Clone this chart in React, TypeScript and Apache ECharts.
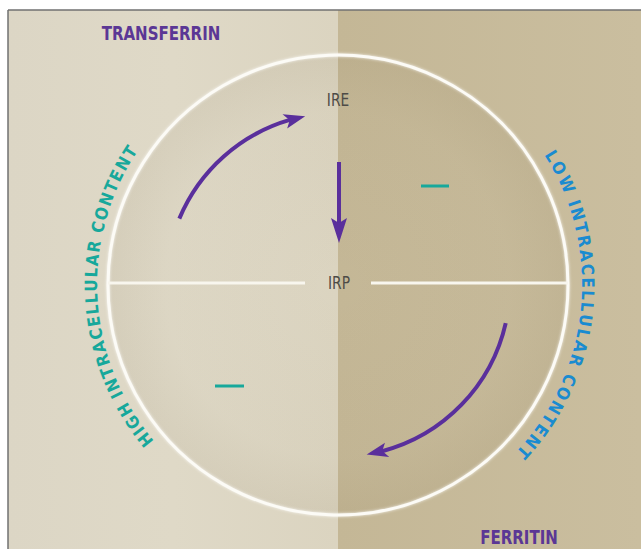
import React, { useEffect, useRef } from 'react';
import * as echarts from 'echarts';

// ---- content ----
const proteinLabels = ['TRANSFERRIN', 'FERRITIN'];
const nodeLabels = ['IRE', 'IRP'];
const sideLabels = ['HIGH INTRACELLULAR CONTENT', 'LOW INTRACELLULAR CONTENT'];
// curved arrows (screen degrees, clockwise from +x)
const arcArrowStart = [202.7, 12.8];
const arcArrowEnd = [259, 80.4];

const FONT = '"Liberation Sans Narrow", "DejaVu Sans Condensed", "Roboto Condensed", "Noto Sans", sans-serif';
const CX = 338;
const CY = 285;
const R = 230;
const PURPLE = '#5a2f9c';
const TEAL = '#17a89b';
const BLUE = '#1a8bd0';
const D = Math.PI / 180;

function curvedText(text: string, startDeg: number, endDeg: number, r: number, size: number, sx: number, color: string, z: number) {
  const canvas = document.createElement('canvas');
  const ctx = canvas.getContext('2d')!;
  ctx.font = `bold ${size}px ${FONT}`;
  const chars = Array.from(text);
  const widths = chars.map((c) => ctx.measureText(c).width * sx);
  const total = widths.reduce((a, b) => a + b, 0);
  const span = (endDeg - startDeg) * D * r;
  const k = span / total;
  let acc = 0;
  const els: any[] = [];
  chars.forEach((c, i) => {
    const mid = (acc + widths[i] / 2) * k;
    acc += widths[i];
    if (c === ' ') return;
    const th = startDeg * D + mid / r;
    els.push({
      type: 'text',
      x: CX + r * Math.cos(th),
      y: CY + r * Math.sin(th),
      rotation: -(th + Math.PI / 2),
      scaleX: sx,
      z,
      style: {
        text: c,
        fill: color,
        fontSize: size,
        fontWeight: 'bold',
        fontFamily: FONT,
        align: 'center',
        verticalAlign: 'middle',
      },
    });
  });
  return els;
}

function arcArrow(r: number, startDeg: number, tipDeg: number, z: number) {
  const len = 21;
  const half = 7.5;
  const notch = 5;
  const t = tipDeg * D;
  const b = t - len / r;
  const tip = [CX + r * Math.cos(t), CY + r * Math.sin(t)];
  const bc = [CX + r * Math.cos(b), CY + r * Math.sin(b)];
  const dx = tip[0] - bc[0];
  const dy = tip[1] - bc[1];
  const dl = Math.hypot(dx, dy);
  const np = [bc[0] + (notch * dx) / dl, bc[1] + (notch * dy) / dl];
  const n = [Math.cos(b), Math.sin(b)];
  return [
    {
      type: 'arc',
      z,
      shape: { cx: CX, cy: CY, r, startAngle: startDeg * D, endAngle: b + 6 / r, clockwise: true },
      style: { stroke: PURPLE, lineWidth: 4, fill: null, lineCap: 'butt' },
    },
    {
      type: 'polygon',
      z,
      shape: {
        points: [tip, [bc[0] + half * n[0], bc[1] + half * n[1]], np, [bc[0] - half * n[0], bc[1] - half * n[1]]],
      },
      style: { fill: PURPLE },
    },
  ];
}

export default function App() {
  const ref = useRef<HTMLDivElement>(null);
  useEffect(() => {
    document.body.style.margin = '0';
    const chart = echarts.init(ref.current!, null, { renderer: 'svg' });
    const labelStyle = (text: string, color: string, size: number, bold: boolean) => ({
      text, fill: color, fontSize: size, fontWeight: bold ? 'bold' : 'normal', fontFamily: FONT,
      align: 'center', verticalAlign: 'middle',
    });
    const elements: any[] = [
      // page background
      { type: 'rect', z: 0, shape: { x: 0, y: 0, width: 641, height: 549 }, style: { fill: '#ffffff' } },
      {
        type: 'rect', z: 1, shape: { x: 8, y: 10, width: CX - 8, height: 549 },
        style: {
          fill: new echarts.graphic.LinearGradient(0, 0, 1, 0, [
            { offset: 0, color: '#dcd6c5' }, { offset: 0.5, color: '#dfd9c7' }, { offset: 1, color: '#dbd4c0' },
          ]),
        },
      },
      {
        type: 'rect', z: 1, shape: { x: CX, y: 10, width: 641 - CX, height: 549 },
        style: {
          fill: new echarts.graphic.LinearGradient(0, 0, 1, 0, [
            { offset: 0, color: '#c4b796' }, { offset: 1, color: '#cabe9f' },
          ]),
        },
      },
      // frame
      { type: 'line', z: 2, shape: { x1: 8, y1: 10, x2: 641, y2: 10 }, style: { stroke: '#707070', lineWidth: 1.5 } },
      { type: 'line', z: 2, shape: { x1: 8, y1: 10, x2: 8, y2: 549 }, style: { stroke: '#707070', lineWidth: 1.5 } },
      // circle inner shading
      {
        type: 'circle', z: 3, shape: { cx: CX, cy: CY, r: R },
        style: {
          fill: new echarts.graphic.RadialGradient(0.5, 0.5, 0.5, [
            { offset: 0, color: 'rgba(90,70,30,0.0)' },
            { offset: 0.75, color: 'rgba(90,70,30,0.02)' },
            { offset: 1, color: 'rgba(90,70,30,0.07)' },
          ]),
        },
      },
      // circle outline
      {
        type: 'circle', z: 4, shape: { cx: CX, cy: CY, r: R },
        style: { fill: null, stroke: '#fcfbf6', lineWidth: 3, shadowBlur: 3, shadowColor: 'rgba(255,255,255,0.8)' },
      },
      // horizontal divider
      { type: 'line', z: 4, shape: { x1: CX - R, y1: 283, x2: 305, y2: 283 }, style: { stroke: '#f8f6ee', lineWidth: 3 } },
      { type: 'line', z: 4, shape: { x1: 371, y1: 283, x2: CX + R, y2: 283 }, style: { stroke: '#f8f6ee', lineWidth: 3 } },
      // protein labels
      { type: 'text', z: 5, x: 161, y: 33, scaleX: 0.88, style: labelStyle(proteinLabels[0], '#5b3795', 19, true) },
      { type: 'text', z: 5, x: 519, y: 537, scaleX: 0.88, style: labelStyle(proteinLabels[1], '#5b3795', 19, true) },
      // node labels
      { type: 'text', z: 5, x: 338, y: 100, scaleX: 0.85, style: labelStyle(nodeLabels[0], '#4d4b47', 18, false) },
      { type: 'text', z: 5, x: 339, y: 283, scaleX: 0.85, style: labelStyle(nodeLabels[1], '#4d4b47', 18, false) },
      // minus signs
      { type: 'line', z: 5, shape: { x1: 421, y1: 186, x2: 449, y2: 186 }, style: { stroke: TEAL, lineWidth: 3 } },
      { type: 'line', z: 5, shape: { x1: 215, y1: 386, x2: 244, y2: 386 }, style: { stroke: TEAL, lineWidth: 3 } },
      // vertical arrow
      { type: 'line', z: 5, shape: { x1: 339, y1: 162, x2: 339, y2: 228 }, style: { stroke: PURPLE, lineWidth: 4 } },
      {
        type: 'polygon', z: 5,
        shape: { points: [[339, 243], [331, 218], [339, 223], [347, 218]] },
        style: { fill: PURPLE },
      },
      ...arcArrow(172, arcArrowStart[0], arcArrowEnd[0], 5),
      ...arcArrow(172, arcArrowStart[1], arcArrowEnd[1], 5),
      ...curvedText(sideLabels[0], 139.5, 214, 247, 17, 1, TEAL, 6),
      ...curvedText(sideLabels[1], -32.5, 43.5, 250, 17, 1, BLUE, 6),
    ];
    chart.setOption({ animation: false, graphic: { elements } });
    return () => chart.dispose();
  }, []);
  return <div ref={ref} style={{ width: 641, height: 549 }} />;
}
